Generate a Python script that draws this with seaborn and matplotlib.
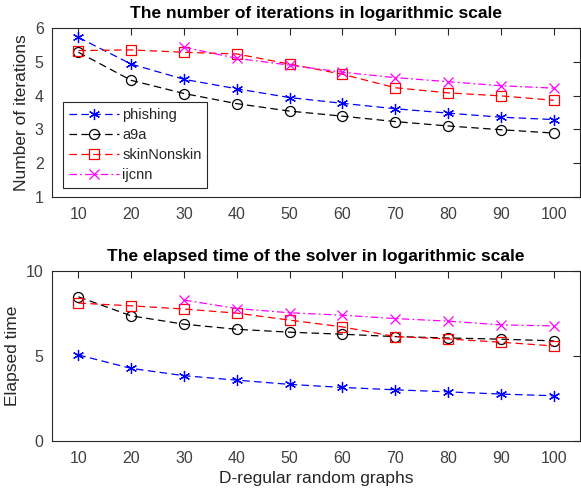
import numpy as np
import pandas as pd
import matplotlib
matplotlib.use("Agg")
import matplotlib.pyplot as plt
import seaborn as sns

degrees = [10, 20, 30, 40, 50, 60, 70, 80, 90, 100]
series_names = ["phishing", "a9a", "skinNonskin", "ijcnn"]

iter_phishing = [5.72, 4.93, 4.48, 4.20, 3.94, 3.77, 3.61, 3.48, 3.36, 3.29]
iter_a9a = [5.28, 4.45, 4.06, 3.76, 3.54, 3.39, 3.23, 3.10, 2.99, 2.89]
iter_skin = [5.33, 5.35, 5.28, 5.23, 4.93, 4.63, 4.23, 4.08, 3.99, 3.86]
iter_ijcnn = [np.nan, np.nan, 5.43, 5.10, 4.90, 4.69, 4.53, 4.41, 4.29, 4.22]

time_phishing = [5.06, 4.27, 3.84, 3.58, 3.33, 3.15, 3.01, 2.89, 2.76, 2.66]
time_a9a = [8.48, 7.36, 6.87, 6.57, 6.40, 6.28, 6.14, 6.06, 5.99, 5.89]
time_skin = [8.11, 7.95, 7.76, 7.52, 7.11, 6.71, 6.14, 6.00, 5.81, 5.59]
time_ijcnn = [np.nan, np.nan, 8.29, 7.79, 7.54, 7.40, 7.20, 7.05, 6.83, 6.77]

iter_tick_labels = ["1", "2", "3", "4", "5", "6"]
time_tick_labels = ["0", "5", "10"]

sns.set_style("white")
plt.rcParams["font.family"] = ["Liberation Sans", "DejaVu Sans"]

styles = {
    "phishing": dict(color="#0000ff", marker=(6, 2, 0), dashes=(6, 3.5), ms=8),
    "a9a": dict(color="#000000", marker="o", dashes=(6, 3.5), ms=7.2),
    "skinNonskin": dict(color="#ff0000", marker="s", dashes=(6, 3.5), ms=7.2),
    "ijcnn": dict(color="#ff00ff", marker="x", dashes=(6, 2.5, 1.5, 2.5), ms=6.5),
}

fig = plt.figure(figsize=(5.81, 4.90), dpi=100)
ax1 = fig.add_axes([0.0895, 0.598, 0.909, 0.345])
ax2 = fig.add_axes([0.0895, 0.100, 0.909, 0.347])

text_col = "#262626"
tick_col = "#404040"

def draw(ax, values_list, show_legend):
    for name, vals in zip(series_names, values_list):
        df = pd.DataFrame({"x": degrees, "y": vals}).dropna()
        st = styles[name]
        c = st["color"]
        sns.lineplot(data=df, x="x", y="y", ax=ax, color=c,
                     marker=st["marker"], markersize=st["ms"],
                     markerfacecolor="none",
                     markeredgecolor=c, markeredgewidth=0.9,
                     linewidth=0.9, dashes=st["dashes"], label=name,
                     legend=show_legend, errorbar=None)
    for spine in ax.spines.values():
        spine.set_color(text_col)
        spine.set_linewidth(0.8)
    ax.tick_params(direction="in", length=5, width=0.8, colors=text_col,
                   labelcolor=tick_col, labelsize=11.5, top=True, right=True)
    ax.tick_params(axis="x", pad=7)
    ax.tick_params(axis="y", pad=6)
    ax.set_xlim(5, 105)
    ax.set_xticks(degrees)
    ax.set_xticklabels([str(d) for d in degrees])

draw(ax1, [iter_phishing, iter_a9a, iter_skin, iter_ijcnn], True)
ax1.set_ylim(1, 6)
ax1.set_yticks([int(t) for t in iter_tick_labels])
ax1.set_yticklabels(iter_tick_labels)
ax1.set_xlabel("")
ax1.set_ylabel("Number of iterations", fontsize=12.5, color=text_col, labelpad=4)
ax1.set_title("The number of iterations in logarithmic scale", fontsize=12.5,
              fontweight="bold", color="#000000", pad=7)
leg = ax1.legend(loc="lower left", bbox_to_anchor=(0.021, 0.053), frameon=True,
                 fancybox=False, edgecolor=text_col, fontsize=10.5,
                 handlelength=3.4, borderpad=0.4, labelspacing=0.42,
                 handletextpad=0.25, borderaxespad=0, framealpha=1)
leg.get_frame().set_linewidth(0.8)
for t in leg.get_texts():
    t.set_color(text_col)

draw(ax2, [time_phishing, time_a9a, time_skin, time_ijcnn], False)
ax2.set_ylim(0, 10)
ax2.set_yticks([int(t) for t in time_tick_labels])
ax2.set_yticklabels(time_tick_labels)
ax2.set_xlabel("D-regular random graphs", fontsize=12.5, color=text_col, labelpad=4)
ax2.set_ylabel("Elapsed time", fontsize=12.5, color=text_col, labelpad=4)
ax2.set_title("The elapsed time of the solver in logarithmic scale", fontsize=12.5,
              fontweight="bold", color="#000000", pad=7)

fig.savefig("out.png", dpi=100)
